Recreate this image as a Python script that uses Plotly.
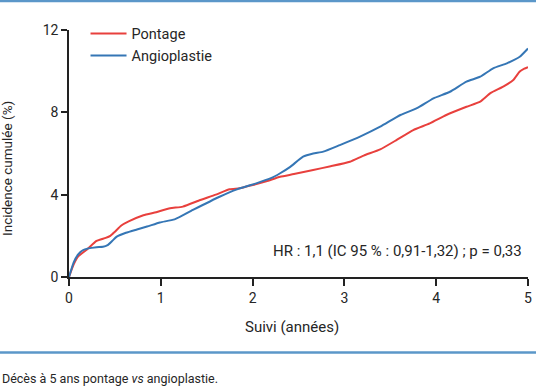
import plotly.graph_objects as go

# Data
pontage_t = [0, 0.05, 0.1, 0.2, 0.3, 0.4, 0.45, 0.5, 0.57, 0.65, 0.81, 0.95, 1.1, 1.24, 1.43, 1.6, 1.75,
             1.86, 2.0, 2.15, 2.3, 2.45, 2.66, 2.85, 3.06, 3.21, 3.39, 3.57, 3.75, 3.93, 4.11, 4.33, 4.48,
             4.59, 4.73, 4.84, 4.91, 4.96, 5.0]
pontage_v = [0, 0.6, 1.0, 1.35, 1.75, 1.9, 2.0, 2.2, 2.5, 2.7, 3.0, 3.15, 3.34, 3.42, 3.74, 4.0, 4.26,
             4.31, 4.47, 4.65, 4.87, 5.0, 5.2, 5.38, 5.6, 5.9, 6.2, 6.66, 7.14, 7.46, 7.87, 8.27, 8.52,
             8.93, 9.25, 9.57, 9.98, 10.12, 10.2]

angio_t = [0, 0.05, 0.1, 0.15, 0.21, 0.3, 0.37, 0.42, 0.47, 0.52, 0.62, 0.74, 0.85, 0.99, 1.15, 1.35,
           1.64, 1.83, 2.04, 2.2, 2.3, 2.41, 2.55, 2.66, 2.77, 2.95, 3.17, 3.39, 3.61, 3.79, 3.97, 4.15,
           4.33, 4.48, 4.62, 4.77, 4.91, 5.0]
angio_v = [0, 0.7, 1.1, 1.3, 1.39, 1.45, 1.47, 1.55, 1.75, 1.96, 2.15, 2.31, 2.45, 2.65, 2.8, 3.26,
           3.9, 4.26, 4.55, 4.8, 5.04, 5.35, 5.85, 6.0, 6.09, 6.41, 6.82, 7.3, 7.87, 8.2, 8.68, 9.0,
           9.49, 9.73, 10.14, 10.38, 10.7, 11.1]

x_ticks = [0, 1, 2, 3, 4, 5]
y_ticks = [0, 4, 8, 12]

RED = "#e8403d"
BLUE = "#3576b5"
FONT = "Roboto"
TXT = "#262626"

fig = go.Figure()
fig.add_trace(go.Scatter(x=pontage_t, y=pontage_v, mode="lines", name="Pontage",
                         line=dict(color=RED, width=2, shape="spline", smoothing=0.5)))
fig.add_trace(go.Scatter(x=angio_t, y=angio_v, mode="lines", name="Angioplastie",
                         line=dict(color=BLUE, width=2, shape="spline", smoothing=0.5)))

W, H = 536, 386
L, R, T, B = 69, 8, 30, 109
pw, ph = W - L - R, H - T - B

def px(xp):
    return (xp - L) / pw

def py(yp):
    return (H - B - yp) / ph

fig.update_layout(
    width=W, height=H,
    margin=dict(l=L, r=R, t=T, b=B, autoexpand=False),
    paper_bgcolor="white", plot_bgcolor="white",
    font=dict(family=FONT, size=14, color=TXT),
    showlegend=True,
    legend=dict(x=0.036, y=1.05, xanchor="left", yanchor="top",
                bgcolor="rgba(0,0,0,0)", font=dict(size=14.5, color=TXT),
                itemwidth=36, tracegroupgap=0),
    xaxis=dict(range=[0, 5], tickvals=x_ticks, ticktext=[str(v) for v in x_ticks],
               showgrid=False, zeroline=False, showline=True, linecolor="#222", linewidth=1.5,
               ticks="outside", ticklen=7, tickwidth=1.5, tickcolor="#222", automargin=False,
               tickfont=dict(size=14, color=TXT)),
    yaxis=dict(range=[0, 12], tickvals=y_ticks, ticktext=[str(v) for v in y_ticks],
               showgrid=False, zeroline=False, showline=True, linecolor="#222", linewidth=1.5,
               ticks="outside", ticklen=6, tickwidth=1.5, tickcolor="#222", automargin=False,
               tickfont=dict(size=14, color=TXT)),
)

annotations = [
    dict(text="Suivi (années)", x=px(292), y=py(327), xref="paper", yref="paper",
         showarrow=False, xanchor="center", yanchor="middle", font=dict(size=15, color=TXT)),
    dict(text="Incidence cumulée (%)", x=px(7), y=py(168), xref="paper", yref="paper",
         showarrow=False, textangle=-90, xanchor="center", yanchor="middle",
         font=dict(size=13.5, color=TXT)),
    dict(text="HR : 1,1 (IC 95 % : 0,91-1,32) ; p = 0,33", x=px(524), y=py(251),
         xref="paper", yref="paper", showarrow=False, xanchor="right", yanchor="middle",
         font=dict(size=15, color=TXT)),
    dict(text="Décès à 5 ans pontage <i>vs</i> angioplastie.", x=px(0), y=py(378),
         xref="paper", yref="paper", showarrow=False, xanchor="left", yanchor="middle",
         font=dict(size=12.5, color=TXT)),
]
fig.update_layout(annotations=annotations)

shapes = [
    dict(type="line", xref="paper", yref="paper", x0=px(0), x1=px(W), y0=py(1), y1=py(1),
         line=dict(color="#5b97c9", width=2.5)),
    dict(type="line", xref="paper", yref="paper", x0=px(0), x1=px(W), y0=py(352.5), y1=py(352.5),
         line=dict(color="#5b97c9", width=2.5)),
]
fig.update_layout(shapes=shapes)

fig.write_html("out.html", config={"displayModeBar": False},
               post_script="document.body.style.margin='0';document.body.style.overflow='hidden';")
